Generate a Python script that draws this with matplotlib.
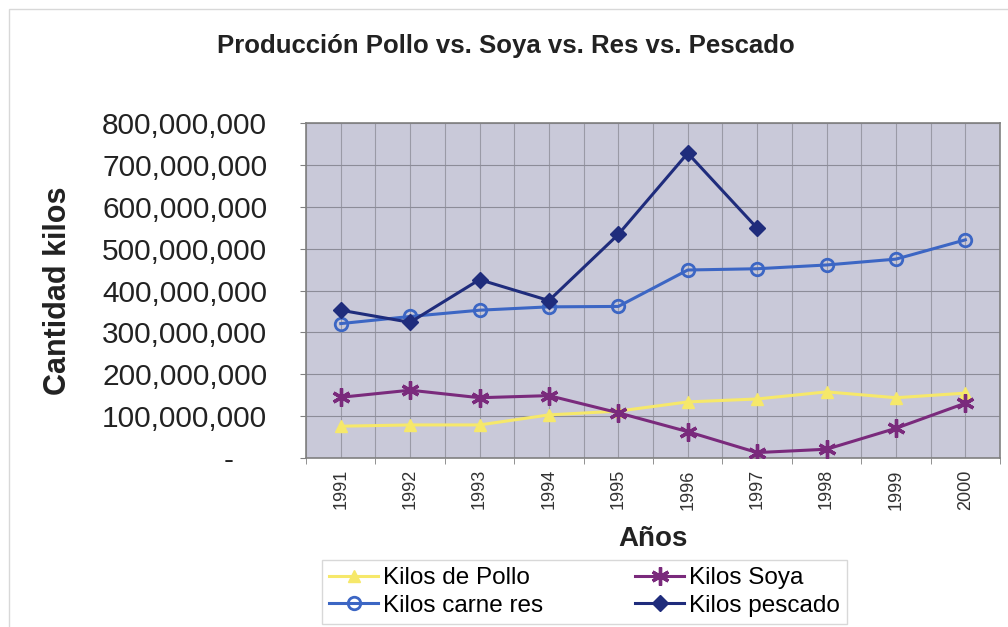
import matplotlib.pyplot as plt
import matplotlib.ticker as mticker
from matplotlib.patches import Rectangle
import numpy as np

plt.rcParams['font.family'] = ['Liberation Sans', 'DejaVu Sans']

# production data (kilos)
years = ['1991', '1992', '1993', '1994', '1995', '1996', '1997', '1998', '1999', '2000']
pollo = [76e6, 79e6, 79e6, 103e6, 112e6, 134e6, 141e6, 158e6, 144e6, 155e6]
soya = [145e6, 162e6, 144e6, 149e6, 108e6, 63e6, 13e6, 21e6, 71e6, 131e6]
carne_res = [321e6, 338e6, 353e6, 361e6, 362e6, 449e6, 452e6, 461e6, 475e6, 521e6]
pescado = [353e6, 324e6, 426e6, 376e6, 534e6, 728e6, 549e6]

x = np.arange(len(years))

fig = plt.figure(figsize=(10.08, 6.27), dpi=100)
fig.patches.append(Rectangle((0.009, -0.01), 1.0, 0.995, transform=fig.transFigure,
                             fill=False, edgecolor='#d8d8d8', linewidth=1.0))
ax = fig.add_axes([0.3036, 0.2695, 0.6885, 0.5343])
ax.set_facecolor('#c9c9d9')

p_pollo, = ax.plot(x, pollo, color='#f6e86a', linewidth=2.2, marker='^', markersize=9,
                   markerfacecolor='#f6e86a', markeredgecolor='#f6e86a', zorder=3)
p_soya, = ax.plot(x, soya, color='#7a2a7c', linewidth=2.2, marker=(6, 2, 0), markersize=13,
                  markeredgewidth=2.4, markeredgecolor='#7a2a7c', zorder=3)
p_res, = ax.plot(x, carne_res, color='#3c66c4', linewidth=2.2, marker='o', markersize=9,
                 markerfacecolor='none', markeredgecolor='#3c66c4', markeredgewidth=2.0, zorder=3)
p_pesc, = ax.plot(x[:len(pescado)], pescado, color='#1f2c7c', linewidth=2.2, marker='D',
                  markersize=8, markerfacecolor='#1f2c7c', markeredgecolor='#1f2c7c', zorder=4)

ax.set_xlim(-0.5, len(years) - 0.5)
ax.set_ylim(0, 800e6)
ax.set_yticks(np.arange(0, 800e6 + 1, 100e6))
ax.yaxis.set_major_formatter(mticker.FuncFormatter(lambda v, p: '-    ' if v == 0 else f'{v:,.0f}'))
ax.set_xticks(x)
ax.set_xticklabels(years, rotation=90, fontsize=13, color='#333333')
ax.set_xticks(np.arange(-0.5, len(years), 1.0), minor=True)
ax.tick_params(axis='y', labelsize=21.5, length=4, color='#808080', pad=24, labelcolor='#222222')
ax.tick_params(axis='x', which='major', length=0, pad=8)
ax.tick_params(axis='x', which='minor', length=4, color='#808080')

ax.grid(True, axis='y', color='#8c8c98', linewidth=0.8)
ax.grid(True, axis='x', which='both', color='#9a9aa6', linewidth=0.8)
ax.set_axisbelow(True)
for s in ax.spines.values():
    s.set_color('#808080')
    s.set_linewidth(1.2)

ax.set_xlabel('Años', fontsize=20, fontweight='bold', labelpad=12, color='#222222')
ax.set_ylabel('Cantidad kilos', fontsize=22, fontweight='bold', labelpad=21, color='#222222')
fig.text(0.502, 0.926, 'Producción Pollo vs. Soya vs. Res vs. Pescado', ha='center', va='center',
         fontsize=18.5, fontweight='bold', color='#222222')

leg = fig.legend([p_pollo, p_res, p_soya, p_pesc],
                 ['Kilos de Pollo', 'Kilos carne res', 'Kilos Soya', 'Kilos pescado'],
                 ncol=2, loc='center', bbox_to_anchor=(0.58, 0.056), fontsize=17.5,
                 frameon=True, fancybox=False, edgecolor='#d8d8d8', framealpha=1,
                 handlelength=2.0, handletextpad=0.2, columnspacing=3.8, labelspacing=0.22,
                 borderpad=0.3)
leg.get_frame().set_linewidth(1.0)

fig.savefig('out.png', dpi=100)
